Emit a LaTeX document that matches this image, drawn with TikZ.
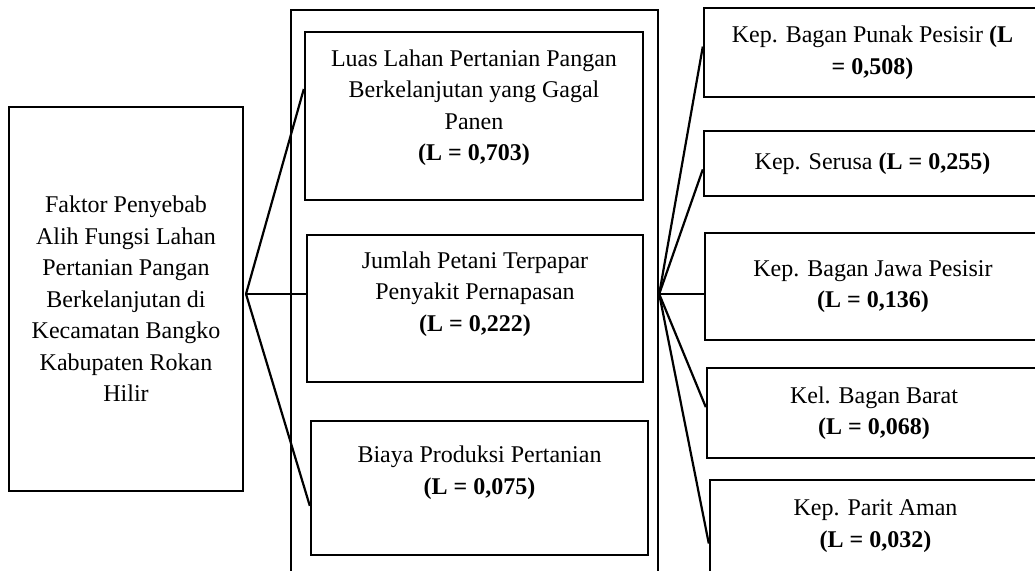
\documentclass[tikz,border=0pt]{standalone}
\usepackage{fontspec}
\setmainfont{Liberation Serif}
\usepackage{tikz}
\usetikzlibrary{positioning,calc}
\newcommand{\isi}{\fontsize{24}{31.5}\selectfont}
\tikzset{
  kotak/.style={draw=black,line width=2.4pt,align=center,inner sep=0pt,font=\isi},
  garis/.style={line width=2.2pt,black},
}

\begin{document}
\begin{tikzpicture}[x=1pt,y=-1pt]
\clip (0,0) rectangle (1035,570);
% faktor utama
\node[kotak,minimum width=234pt,minimum height=384pt] (faktor) at (126,299)
  {Faktor Penyebab\\Alih Fungsi Lahan\\Pertanian Pangan\\Berkelanjutan di\\Kecamatan Bangko\\Kabupaten Rokan\\Hilir};
% kolom kriteria
\node[kotak,minimum width=367pt,minimum height=590pt] (kriteria) at (474.5,305) {};
\node[kotak,minimum width=338pt,minimum height=168pt,text depth=22pt] (luas) at (474,116)
  {Luas Lahan Pertanian Pangan\\Berkelanjutan yang Gagal\\Panen\\\textbf{(L = 0,703)}};
\node[kotak,minimum width=336pt,minimum height=147pt,text depth=34pt] (jumlah) at (475,308.5)
  {Jumlah Petani Terpapar\\Penyakit Pernapasan\\\textbf{(L = 0,222)}};
\node[kotak,minimum width=337pt,minimum height=134pt,text depth=36pt] (biaya) at (479.5,488)
  {Biaya Produksi Pertanian\\\textbf{(L = 0,075)}};
% kolom alternatif
\node[kotak,minimum width=337pt,minimum height=89pt] (punak) at (872.5,52.5)
  {Kep. Bagan Punak Pesisir \textbf{(L}\\\textbf{= 0,508)}};
\node[kotak,minimum width=337pt,minimum height=65pt] (serusa) at (872.5,163.5)
  {Kep. Serusa \textbf{(L = 0,255)}};
\node[kotak,minimum width=336pt,minimum height=107pt] (jawa) at (873,286.5)
  {Kep. Bagan Jawa Pesisir\\\textbf{(L = 0,136)}};
\node[kotak,minimum width=334pt,minimum height=90pt] (barat) at (874,413)
  {Kel. Bagan Barat\\\textbf{(L = 0,068)}};
\node[kotak,minimum width=331pt,minimum height=92pt] (parit) at (875.5,526)
  {Kep. Parit Aman\\\textbf{(L = 0,032)}};
% garis penghubung
\coordinate (hubL) at (246,294);
\coordinate (hubR) at (kriteria.east |- hubL);
\draw[garis] (hubL) -- (luas.171);
\draw[garis] (hubL) -- (hubL -| jumlah.west);
\draw[garis] (hubL) -- (biaya.186);
\draw[garis] (hubR) -- (punak.178);
\draw[garis] (hubR) -- (serusa.182);
\draw[garis] (hubR) -- (hubR -| jawa.west);
\draw[garis] (hubR) -- (barat.178);
\draw[garis] (hubR) -- (parit.186);
\end{tikzpicture}
\end{document}
